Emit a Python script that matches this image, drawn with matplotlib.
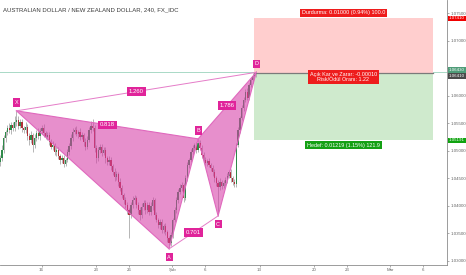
import numpy as np
import matplotlib
matplotlib.use("Agg")
import matplotlib.pyplot as plt
from matplotlib.transforms import blended_transform_factory

plt.rcParams['font.family'] = ['Liberation Sans Narrow', 'Liberation Sans', 'DejaVu Sans']

# 4h candles, AUDNZD (closes)
closes = [
    1.0487, 1.0502, 1.0524, 1.0535, 1.0542, 1.0538, 1.0547, 1.0542, 1.0553, 1.0557,
    1.0546, 1.0553, 1.0542, 1.0538, 1.0544, 1.0527, 1.0520, 1.0529, 1.0511, 1.0524,
    1.0533, 1.0527, 1.0537, 1.0542, 1.0533, 1.0526, 1.0529, 1.0517, 1.0508, 1.0511,
    1.0498, 1.0502, 1.0491, 1.0484, 1.0487, 1.0477, 1.0484, 1.0498, 1.0509, 1.0524,
    1.0535, 1.0538, 1.0531, 1.0535, 1.0526, 1.0529, 1.0517, 1.0508, 1.0520, 1.0538,
    1.0546, 1.0542, 1.0506, 1.0487, 1.0502, 1.0508, 1.0497, 1.0502, 1.0487, 1.0480,
    1.0484, 1.0473, 1.0462, 1.0453, 1.0458, 1.0444, 1.0433, 1.0420, 1.0411, 1.0402,
    1.0393, 1.0384, 1.0402, 1.0411, 1.0415, 1.0402, 1.0393, 1.0384, 1.0398, 1.0406,
    1.0393, 1.0402, 1.0389, 1.0400, 1.0411, 1.0384, 1.0375, 1.0366, 1.0371, 1.0356,
    1.0364, 1.0353, 1.0342, 1.0333, 1.0347, 1.0375, 1.0393, 1.0411, 1.0426, 1.0433,
    1.0438, 1.0415, 1.0451, 1.0475, 1.0484, 1.0498, 1.0506, 1.0511, 1.0502, 1.0515,
    1.0506, 1.0493, 1.0484, 1.0478, 1.0482, 1.0475, 1.0469, 1.0462, 1.0451, 1.0442,
    1.0435, 1.0444, 1.0437, 1.0442, 1.0447, 1.0455, 1.0462, 1.0451, 1.0444, 1.0440,
    1.0511, 1.0538, 1.0560, 1.0578, 1.0593, 1.0608, 1.0597, 1.0620, 1.0629, 1.0637,
    1.0640, 1.0643,
]
first_open = 1.0480
# wick lengths in pips
upper_wick = [
    6, 8, 5, 4, 6, 8, 5, 6, 10, 16,
    7, 5, 6, 4, 8, 5, 6, 7, 4, 6,
    5, 8, 4, 6, 7, 4, 5, 6, 5, 7,
    4, 6, 5, 4, 6, 5, 4, 6, 5, 7,
    6, 5, 8, 4, 6, 5, 4, 6, 7, 5,
    8, 12, 5, 4, 6, 5, 4, 6, 5, 4,
    6, 5, 4, 7, 5, 4, 6, 5, 4, 6,
    5, 4, 6, 8, 5, 4, 6, 5, 7, 5,
    4, 6, 5, 7, 6, 4, 5, 4, 6, 5,
    4, 5, 4, 3, 5, 4, 6, 5, 4, 7,
    5, 4, 6, 5, 4, 6, 5, 4, 6, 7,
    5, 4, 6, 5, 4, 5, 4, 6, 5, 4,
    5, 6, 4, 5, 6, 5, 4, 5, 4, 5,
    4, 5, 4, 6, 5, 4, 6, 4, 5, 4,
    4, 3,
]
lower_wick = [
    8, 6, 5, 7, 6, 5, 8, 6, 5, 7,
    6, 5, 8, 6, 5, 7, 9, 6, 12, 5,
    6, 5, 7, 6, 8, 5, 6, 7, 5, 6,
    5, 7, 6, 8, 5, 6, 5, 4, 6, 5,
    6, 5, 4, 7, 6, 5, 8, 6, 5, 4,
    5, 6, 7, 8, 5, 6, 7, 5, 8, 6,
    5, 7, 6, 8, 5, 7, 6, 5, 8, 6,
    7, 42, 6, 5, 7, 6, 8, 10, 5, 6,
    7, 6, 5, 6, 8, 7, 5, 6, 7, 5,
    6, 5, 7, 11, 6, 5, 4, 6, 5, 4,
    5, 8, 4, 5, 6, 4, 5, 6, 5, 4,
    5, 6, 5, 7, 6, 5, 6, 7, 8, 6,
    53, 6, 7, 5, 6, 5, 4, 7, 6, 5,
    6, 4, 5, 4, 5, 4, 5, 4, 4, 5,
    4, 5,
]
first_day = -3.8
bars_per_day = 6

# harmonic pattern (x in trading days from Jan 16)
pattern_names = ['X', 'A', 'B', 'C', 'D']
pattern_days = [-2.3, 11.7, 14.37, 16.2, 19.7]
pattern_prices = [1.0573, 1.0322, 1.0522, 1.0382, 1.0643]
ratio_xd, ratio_xb, ratio_ac, ratio_bd = '1.260', '0.818', '0.701', '1.786'

# short position tool
pos_start, pos_end = 19.5, 35.9
stop_price = 1.07410
entry_price = 1.06410
target_price = 1.05191
last_price = 1.06430

tick_days = [0, 5, 8, 12, 15, 20, 25, 28, 32, 35]
tick_labels = ['16', '23', '26', 'Şub', '6', '13', '20', '23', 'Mar', '6']
price_ticks = [1.030, 1.035, 1.040, 1.045, 1.050, 1.055, 1.060, 1.065, 1.070, 1.075]

PINK = '#d63fa8'
fig = plt.figure(figsize=(4.66, 2.75), dpi=100)
ax = fig.add_axes([0, 10 / 275, 447 / 466, 265 / 275])
ax.set_xlim(-3.81, 37.2)
ax.set_ylim(1.02927, 1.07745)

# candles
closes = np.array(closes)
opens = np.concatenate([[first_open], closes[:-1]])
days = first_day + np.arange(len(closes)) / bars_per_day
highs = np.maximum(opens, closes) + np.array(upper_wick) / 10000
lows = np.minimum(opens, closes) - np.array(lower_wick) / 10000
up = closes >= opens
ax.vlines(days, lows, highs, color='#aaaaaa', lw=0.6, zorder=2)
ax.bar(days[up], closes[up] - opens[up], bottom=opens[up], width=0.12,
       color='#2f8a4a', zorder=3)
ax.bar(days[~up], opens[~up] - closes[~up], bottom=closes[~up], width=0.12,
       color='#b02f35', zorder=3)

# last price line
ax.axhline(last_price, color='#a9d9c6', lw=0.7, zorder=1)

# pattern
px, py = pattern_days, pattern_prices
ax.fill([px[0], px[1], px[2]], [py[0], py[1], py[2]], color=PINK, alpha=0.58, lw=0, zorder=4)
ax.fill([px[2], px[3], px[4]], [py[2], py[3], py[4]], color=PINK, alpha=0.58, lw=0, zorder=4)
ax.plot(px, py, color='#e068bd', lw=0.8, zorder=5)
ax.plot([px[0], px[2]], [py[0], py[2]], color='#e068bd', lw=0.8, zorder=5)
ax.plot([px[2], px[4]], [py[2], py[4]], color='#e068bd', lw=0.8, zorder=5)
ax.plot([px[0], px[4]], [py[0], py[4]], color='#e57cc8', lw=0.7, zorder=5)
ax.plot([px[1], px[3]], [py[1], py[3]], color='#e57cc8', lw=0.7, zorder=5)

box = dict(boxstyle='square,pad=0.3', fc='#e0249a', ec='none')
offsets = [6, -6, 6, -6, 6]
for name, d, p, off in zip(pattern_names, px, py, offsets):
    ax.annotate(name, (d, p), xytext=(0, off), textcoords='offset points',
                ha='center', va='center', fontsize=4, color='white', bbox=box, zorder=7)


def mid_label(i, j, txt):
    ax.text((px[i] + px[j]) / 2, (py[i] + py[j]) / 2, txt, ha='center', va='center',
            fontsize=4.3, color='white', bbox=box, zorder=7)


mid_label(0, 4, ratio_xd)
mid_label(0, 2, ratio_xb)
mid_label(1, 3, ratio_ac)
mid_label(2, 4, ratio_bd)

# position boxes
ax.fill_between([pos_start, pos_end], entry_price, stop_price, color='#ffcece', lw=0, zorder=1)
ax.fill_between([pos_start, pos_end], target_price, entry_price, color='#cfeacd', lw=0, zorder=1)
ax.plot([pos_start, pos_end], [entry_price, entry_price], color='#7a7a7a', lw=0.9, zorder=2)
cx = (pos_start + pos_end) / 2
ax.annotate('Durdurma: 0.01000 (0.94%) 100.0', (cx, stop_price), xytext=(0, 4),
            textcoords='offset points', ha='center', va='center', fontsize=3.9, color='white',
            bbox=dict(boxstyle='square,pad=0.3', fc='#ee1c1c', ec='none'), zorder=7)
ax.annotate('Açık Kar ve Zarar: -0.00010\nRisk/Ödül Oranı: 1.22', (cx, entry_price),
            xytext=(0, -2.5), textcoords='offset points', ha='center', va='center',
            fontsize=3.9, color='white', linespacing=1.0,
            bbox=dict(boxstyle='square,pad=0.3', fc='#ee1c1c', ec='none'), zorder=7)
ax.annotate('Hedef: 0.01219 (1.15%) 121.9', (cx, target_price), xytext=(0, -3.5),
            textcoords='offset points', ha='center', va='center', fontsize=3.9, color='white',
            bbox=dict(boxstyle='square,pad=0.3', fc='#14a014', ec='none'), zorder=7)

# axes styling
for s in ['top', 'left']:
    ax.spines[s].set_visible(False)
for s in ['right', 'bottom']:
    ax.spines[s].set_color('#8c8c8c')
    ax.spines[s].set_linewidth(0.6)
ax.yaxis.tick_right()
ax.set_yticks(price_ticks)
ax.set_yticklabels([f'{p:.5f}' for p in price_ticks])
ax.set_xticks(tick_days)
ax.set_xticklabels(tick_labels)
ax.tick_params(axis='both', labelsize=3.2, colors='#8c8c8c', labelcolor='#666666',
               length=1.5, width=0.5, pad=0.8)

tr = blended_transform_factory(ax.transAxes, ax.transData)
for price, col in [(stop_price, '#f00000'), (last_price, '#4e9c78'),
                   (entry_price, '#4a4a4a'), (target_price, '#0fa30f')]:
    off = {last_price: 1.6, entry_price: -1.6}.get(price, 0)
    ax.annotate(f'{price:.5f}', (1.0, price), xycoords=tr, xytext=(1.5, off),
                textcoords='offset points', ha='left', va='center', fontsize=3.2,
                color='white', bbox=dict(boxstyle='square,pad=0.2', fc=col, ec='none'),
                annotation_clip=False, zorder=8)

fig.text(3 / 466, 1 - 10 / 275, 'AUSTRALIAN DOLLAR / NEW ZEALAND DOLLAR, 240, FX_IDC',
         fontsize=4.3, color='#3a3a3a', va='center')

fig.savefig('out.png', dpi=100)
